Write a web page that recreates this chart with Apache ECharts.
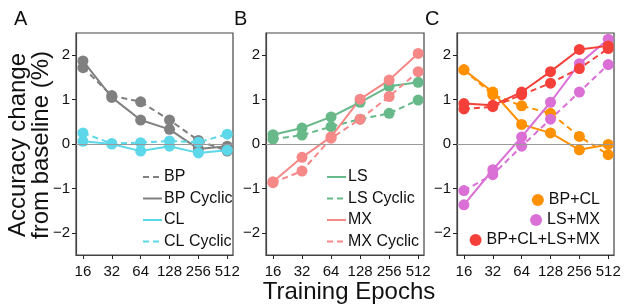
<!DOCTYPE html>
<html>
<head>
<meta charset="utf-8">
<script src="https://cdn.jsdelivr.net/npm/echarts@6/dist/echarts.min.js"></script>
<style>
  html, body { margin: 0; padding: 0; background: #fff; }
  #main { width: 627px; height: 305px; }
</style>
</head>
<body>
<div id="main"></div>
<script>
// x categories (training epochs)
const epochs = ['16', '32', '64', '128', '256', '512']
const yTicks = [-2, -1, 0, 1, 2]

// panel A
const bp = [1.72, 1.09, 0.95, 0.54, 0.08, -0.16]
const bpCyclic = [1.87, 1.05, 0.54, 0.33, -0.11, -0.05]
const cl = [0.06, 0.0, -0.16, -0.05, -0.2, -0.14]
const clCyclic = [0.25, 0.01, 0.03, 0.07, 0.04, 0.22]

// panel B
const ls = [0.21, 0.36, 0.61, 0.94, 1.3, 1.39]
const lsCyclic = [0.11, 0.2, 0.39, 0.56, 0.69, 0.99]
const mx = [-0.85, -0.3, 0.16, 1.01, 1.44, 2.04]
const mxCyclic = [-0.87, -0.61, 0.13, 0.56, 1.07, 1.63]

// panel C (solid / dashed)
const bpcl = [1.67, 1.17, 0.44, 0.25, -0.13, -0.01]
const bpclDash = [1.67, 1.11, 0.86, 0.69, 0.17, -0.24]
const lsmx = [-1.37, -0.58, 0.16, 0.94, 1.81, 2.36]
const lsmxDash = [-1.05, -0.69, -0.05, 0.56, 1.17, 1.79]
const all4 = [0.91, 0.87, 1.17, 1.63, 2.13, 2.21]
const all4Dash = [0.79, 0.84, 1.11, 1.37, 1.7, 2.15]

const FONT = 'Liberation Sans'
const GRAY = '#808080'
const CYAN = '#5dd8ea'
const GREEN = '#68b98a'
const SALMON = '#f78888'
const ORANGE = '#ff9000'
const ORCHID = '#da70d6'
const RED = '#f5403a'

const pairs = vals => vals.map((v, i) => [i, v])

const chart = echarts.init(document.getElementById('main'))

const grids = [
  { left: 76, top: 33, width: 157, height: 222 },
  { left: 266, top: 33, width: 158, height: 222 },
  { left: 457, top: 33, width: 157, height: 222 }
].map(g => Object.assign(g, { show: true, borderColor: '#444', borderWidth: 1.2 }))

const xAxes = [0, 1, 2].map(i => ({
  type: 'value', gridIndex: i, min: -0.24, max: 5.2,
  axisLine: { onZero: false, lineStyle: { color: '#444', width: 1.2 } },
  axisTick: { show: true, length: 4, customValues: [0, 1, 2, 3, 4, 5], lineStyle: { color: '#222' } },
  axisLabel: {
    customValues: [0, 1, 2, 3, 4, 5], margin: 9,
    formatter: v => epochs[v], color: '#111', fontSize: 15, fontFamily: FONT
  },
  splitLine: { show: false }
}))

const yAxes = [0, 1, 2].map(i => ({
  type: 'value', gridIndex: i, min: -2.5, max: 2.5,
  axisLine: { show: true, onZero: false, lineStyle: { color: '#444', width: 1.2 } },
  axisTick: { show: true, length: 4, customValues: yTicks, lineStyle: { color: '#222' } },
  axisLabel: {
    customValues: yTicks, margin: 6,
    formatter: v => (v < 0 ? '\u2212' + Math.abs(v) : String(v)),
    color: '#111', fontSize: 15, fontFamily: FONT
  },
  splitLine: { show: false }
}))

function line(name, vals, color, dashed, idx) {
  return {
    name: name, type: 'line', xAxisIndex: idx, yAxisIndex: idx,
    data: pairs(vals),
    symbol: 'circle', symbolSize: 11,
    itemStyle: { color: color },
    lineStyle: { color: color, width: 2, type: dashed ? [6, 4] : 'solid' },
    emphasis: { disabled: true }
  }
}

// thin zero line in each panel
function zeroLine(idx) {
  return {
    type: 'line', xAxisIndex: idx, yAxisIndex: idx, data: [], silent: true,
    markLine: {
      silent: true, symbol: 'none', label: { show: false },
      lineStyle: { color: '#999', width: 1, type: 'solid' },
      data: [{ yAxis: 0 }]
    }
  }
}

const series = [
  zeroLine(0), zeroLine(1), zeroLine(2),
  line('BP', bp, GRAY, true, 0),
  line('BP Cyclic', bpCyclic, GRAY, false, 0),
  line('CL', cl, CYAN, false, 0),
  line('CL Cyclic', clCyclic, CYAN, true, 0),
  line('LS', ls, GREEN, false, 1),
  line('LS Cyclic', lsCyclic, GREEN, true, 1),
  line('MX', mx, SALMON, false, 1),
  line('MX Cyclic', mxCyclic, SALMON, true, 1),
  line('BP+CL', bpclDash, ORANGE, true, 2),
  line('BP+CL', bpcl, ORANGE, false, 2),
  line('LS+MX', lsmxDash, ORCHID, true, 2),
  line('LS+MX', lsmx, ORCHID, false, 2),
  line('BP+CL+LS+MX', all4Dash, RED, true, 2),
  line('BP+CL+LS+MX', all4, RED, false, 2)
]

const lineLegend = (names, left) => ({
  data: names, orient: 'vertical', left: left, top: 164,
  itemWidth: 19, itemHeight: 14, itemGap: 5.5,
  itemStyle: { opacity: 0 },
  selectedMode: false,
  textStyle: { fontSize: 16, lineHeight: 14, fontFamily: FONT, color: '#111', padding: [0, 0, 0, -3] }
})

const dotLegend = (name, top) => ({
  data: [name], right: 22, top: top,
  icon: 'circle', itemWidth: 12, itemHeight: 12,
  selectedMode: false,
  textStyle: { fontSize: 16, lineHeight: 12, fontFamily: FONT, color: '#111' }
})

chart.setOption({
  animation: false,
  grid: grids,
  xAxis: xAxes,
  yAxis: yAxes,
  legend: [
    lineLegend(['BP', 'BP Cyclic', 'CL', 'CL Cyclic'], 137),
    lineLegend(['LS', 'LS Cyclic', 'MX', 'MX Cyclic'], 321),
    dotLegend('BP+CL', 187),
    dotLegend('LS+MX', 207),
    dotLegend('BP+CL+LS+MX', 227)
  ],
  graphic: [
    { type: 'text', left: 14, top: 9, style: { text: 'A', fontSize: 20, fontFamily: FONT, fill: '#111' } },
    { type: 'text', left: 234, top: 9, style: { text: 'B', fontSize: 20, fontFamily: FONT, fill: '#111' } },
    { type: 'text', left: 425, top: 9, style: { text: 'C', fontSize: 20, fontFamily: FONT, fill: '#111' } },
    {
      type: 'text', x: 30, y: 145, rotation: Math.PI / 2,
      style: {
        text: 'Accuracy change\nfrom baseline (%)', fontSize: 24, lineHeight: 23,
        fontFamily: FONT, fill: '#111', align: 'center', verticalAlign: 'middle'
      }
    },
    {
      type: 'text', x: 349, y: 292,
      style: {
        text: 'Training Epochs', fontSize: 24, fontFamily: FONT, fill: '#111',
        align: 'center', verticalAlign: 'middle'
      }
    }
  ],
  series: series
})
</script>
</body>
</html>
